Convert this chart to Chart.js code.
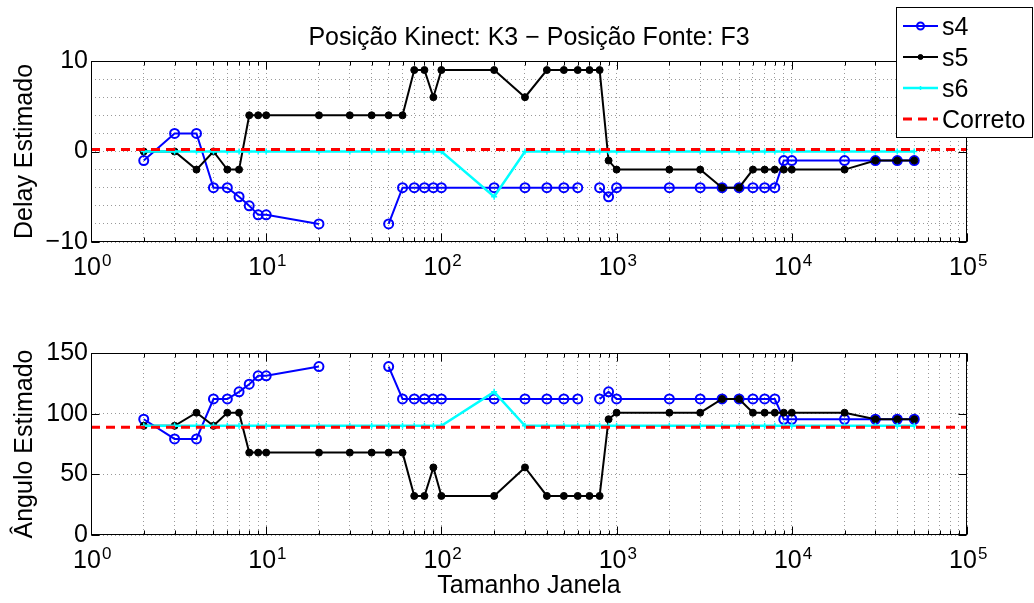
<!DOCTYPE html>
<html>
<head>
<meta charset="utf-8">
<title>Posição Kinect: K3 − Posição Fonte: F3</title>
<script src="https://cdn.jsdelivr.net/npm/chart.js@4.4.0/dist/chart.umd.min.js"></script>
<style>
  html, body { margin: 0; padding: 0; background: #fff; }
  #wrap { position: relative; width: 1034px; height: 603px; overflow: hidden; }
  canvas { position: absolute; left: 0; }
</style>
</head>
<body>
<div id="wrap">
  <canvas id="delayChart" width="1034" height="300" style="top:0"></canvas>
  <canvas id="angleChart" width="1034" height="303" style="top:300px"></canvas>
</div>
<script>
const FONT = "'Liberation Sans', Arial, Helvetica, sans-serif";

// window sizes (x axis, log)
const windowSizes = [2, 3, 4, 5, 6, 7, 8, 9, 10, 20, 30, 40, 50, 60, 70, 80, 90, 100,
  200, 300, 400, 500, 600, 700, 800, 900, 1000, 2000, 3000, 4000, 5000, 6000, 7000,
  8000, 9000, 10000, 20000, 30000, 40000, 50000];

// top: estimated delay
const delayS4 = [-1, 2, 2, -4, -4, -5, -6, -7, -7, -8, null, null, -8, -4, -4, -4, -4, -4,
  -4, -4, -4, -4, -4, null, -4, -5, -4, -4, -4, -4, -4, -4, -4,
  -4, -1, -1, -1, -1, -1, -1];
const delayS5 = [0, 0, -2, 0, -2, -2, 4, 4, 4, 4, 4, 4, 4, 4, 9, 9, 6, 9,
  9, 6, 9, 9, 9, 9, 9, -1, -2, -2, -2, -4, -4, -2, -2,
  -2, -2, -2, -2, -1, -1, -1];
const delayS6 = [0, 0, 0, 0, 0, 0, 0, 0, 0, 0, 0, 0, 0, 0, 0, 0, 0, 0,
  -5, 0, 0, 0, 0, 0, 0, 0, 0, 0, 0, 0, 0, 0, 0,
  0, 0, 0, 0, 0, 0, 0];

// bottom: estimated angle
const angleS4 = [95.4, 79.2, 79.2, 112.1, 112.1, 118.0, 124.3, 131.2, 131.2, 138.8, null, null, 138.8, 112.1, 112.1, 112.1, 112.1, 112.1,
  112.1, 112.1, 112.1, 112.1, 112.1, null, 112.1, 118.0, 112.1, 112.1, 112.1, 112.1, 112.1, 112.1, 112.1,
  112.1, 95.4, 95.4, 95.4, 95.4, 95.4, 95.4];
const angleS5 = [90, 90, 100.8, 90, 100.8, 100.8, 67.9, 67.9, 67.9, 67.9, 67.9, 67.9, 67.9, 67.9, 32.2, 32.2, 55.7, 32.2,
  32.2, 55.7, 32.2, 32.2, 32.2, 32.2, 32.2, 95.4, 100.8, 100.8, 100.8, 112.1, 112.1, 100.8, 100.8,
  100.8, 100.8, 100.8, 100.8, 95.4, 95.4, 95.4];
const angleS6 = [90, 90, 90, 90, 90, 90, 90, 90, 90, 90, 90, 90, 90, 90, 90, 90, 90, 90,
  118.0, 90, 90, 90, 90, 90, 90, 90, 90, 90, 90, 90, 90, 90, 90,
  90, 90, 90, 90, 90, 90, 90];

// reference ("Correto") lines
const correctRange = [1, 100000];
const correctDelay = [0.22, 0.22];
const correctAngle = [88.8, 88.8];

const seriesNames = ['s4', 's5', 's6', 'Correto'];
// x tick labels: base + exponent (drawn as superscript)
const xTickBase = { 1: '10', 10: '10', 100: '10', 1000: '10', 10000: '10', 100000: '10' };
const xTickExp = { 1: '0', 10: '1', 100: '2', 1000: '3', 10000: '4', 100000: '5' };
const delayTickLabels = { '-10': '−10', '0': '0', '10': '10' };
const angleTickLabels = { '0': '0', '50': '50', '100': '100', '150': '150' };

// minor + major positions of the log axis
const logTicks = [];
[1, 10, 100, 1000, 10000].forEach((d) => {
  for (let m = 1; m < 10; m++) logTicks.push(m * d);
});
logTicks.push(100000);

const toPoints = (xs, ys) => xs.map((x, i) => ({ x: x, y: ys[i] }));

const makeDatasets = (s4, s5, s6, corr) => [
  {
    label: seriesNames[0], data: toPoints(windowSizes, s4),
    borderColor: '#0000ff', backgroundColor: 'rgba(0,0,0,0)', borderWidth: 2,
    pointStyle: 'circle', pointRadius: 4.5, pointBorderWidth: 2, order: 4,
  },
  {
    label: seriesNames[1], data: toPoints(windowSizes, s5),
    borderColor: '#000000', backgroundColor: '#000000', borderWidth: 2,
    pointStyle: 'circle', pointRadius: 3.5, pointBorderWidth: 1, order: 3,
  },
  {
    label: seriesNames[2], data: toPoints(windowSizes, s6),
    borderColor: '#00ffff', backgroundColor: '#00ffff', borderWidth: 2.5,
    pointStyle: 'cross', pointRadius: 3, pointBorderWidth: 1.5, order: 2,
  },
  {
    label: seriesNames[3], data: toPoints(correctRange, corr),
    borderColor: '#ff0000', backgroundColor: '#ff0000', borderWidth: 3,
    borderDash: [9, 6], pointRadius: 0, order: 1,
  },
];

const tickFont = { family: FONT, size: 25 };
const gridOpts = { color: 'rgba(0,0,0,0.4)', lineWidth: 1, drawTicks: false };
const X_LABEL_SHIFT = -4;

//box around the axes with inward ticks
const axesBox = {
  id: 'axesBox',
  afterDatasetsDraw(chart) {
    const { ctx, chartArea: a, scales } = chart;
    const L = Math.round(a.left) + 0.5, R = Math.round(a.right) - 0.5;
    const T = Math.round(a.top) + 0.5, B = Math.round(a.bottom) - 0.5;
    ctx.save();
    ctx.strokeStyle = '#000';
    ctx.lineWidth = 1;
    ctx.setLineDash([]);
    ctx.beginPath();
    scales.x.ticks.forEach((t) => {
      const px = Math.round(scales.x.getPixelForValue(t.value)) + 0.5;
      const len = xTickBase[t.value] ? 8 : 4;
      ctx.moveTo(px, B); ctx.lineTo(px, B - len);
      ctx.moveTo(px, T); ctx.lineTo(px, T + len);
    });
    const yLabels = scales.y.options.ticks.callback;
    scales.y.ticks.forEach((t) => {
      if (!yLabels(t.value)) return;
      const py = Math.round(scales.y.getPixelForValue(t.value)) + 0.5;
      ctx.moveTo(L, py); ctx.lineTo(L + 8, py);
      ctx.moveTo(R, py); ctx.lineTo(R - 8, py);
    });
    ctx.stroke();
    ctx.strokeRect(L, T, R - L, B - T);
    ctx.restore();
  },
  //exponents of the x tick labels
  afterDraw(chart) {
    const { ctx, scales } = chart;
    const xs = scales.x;
    const pad = xs.options.ticks.padding;
    const mid = xs.top + pad + 15;
    ctx.save();
    ctx.fillStyle = '#000';
    ctx.textBaseline = 'middle';
    ctx.textAlign = 'left';
    xs.ticks.forEach((t) => {
      const e = xTickExp[t.value];
      if (e === undefined) return;
      ctx.font = '25px ' + FONT;
      const half = ctx.measureText(xTickBase[t.value]).width / 2;
      const px = xs.getPixelForValue(t.value) + X_LABEL_SHIFT + half + 1;
      ctx.font = '17px ' + FONT;
      ctx.fillText(e, px, mid - 7);
    });
    ctx.restore();
  },
};

const legendBox = {
  id: 'legendBox',
  afterDraw(chart) {
    const ctx = chart.ctx;
    const x0 = 896, y0 = 7, w = 137, h = 131;
    ctx.save();
    ctx.fillStyle = '#fff';
    ctx.fillRect(x0, y0, w, h);
    ctx.strokeStyle = '#000';
    ctx.lineWidth = 1;
    ctx.strokeRect(x0 + 0.5, y0 + 0.5, w - 1, h - 1);
    chart.data.datasets.forEach((ds, i) => {
      const y = 26 + i * 31;
      ctx.strokeStyle = ds.borderColor;
      ctx.lineWidth = ds.borderWidth;
      ctx.setLineDash(ds.borderDash || []);
      ctx.beginPath();
      ctx.moveTo(903, y);
      ctx.lineTo(938, y);
      ctx.stroke();
      ctx.setLineDash([]);
      if (ds.pointRadius > 0) {
        ctx.fillStyle = ds.backgroundColor;
        ctx.lineWidth = ds.pointBorderWidth;
        Chart.helpers.drawPoint(ctx, {
          pointStyle: ds.pointStyle, radius: ds.pointRadius - 1,
          borderWidth: ds.pointBorderWidth, rotation: 0,
        }, 920.5, y);
      }
      ctx.fillStyle = '#000';
      ctx.font = '25px ' + FONT;
      ctx.textBaseline = 'middle';
      ctx.textAlign = 'left';
      ctx.fillText(ds.label, 942, y + 2);
    });
    ctx.restore();
  },
};

const xScale = (height, title) => ({
  type: 'logarithmic',
  min: 1,
  max: 100000,
  afterBuildTicks: (scale) => {
    scale.ticks = logTicks.map((v) => ({ value: v }));
  },
  ticks: {
    autoSkip: false, maxRotation: 0, minRotation: 0, padding: 11,
    labelOffset: X_LABEL_SHIFT,
    font: tickFont, color: '#000',
    callback: (v) => xTickBase[v] || '',
  },
  grid: gridOpts,
  border: { display: false, dash: [1, 3] },
  title: title
    ? { display: true, text: title, font: tickFont, color: '#000', padding: { top: 0, bottom: 2 } }
    : { display: false },
  afterFit: (scale) => { scale.height = height; },
});

const yScale = (min, max, step, labels, title) => ({
  min: min,
  max: max,
  ticks: {
    stepSize: step, autoSkip: false, padding: 3,
    font: tickFont, color: '#000',
    callback: (v) => labels[v] || '',
  },
  grid: gridOpts,
  border: { display: false, dash: [1, 3] },
  title: { display: true, text: title, font: tickFont, color: '#000', padding: { top: 10, bottom: 0 } },
  afterFit: (scale) => { scale.width = 91; },
});

const common = {
  responsive: false,
  animation: false,
  devicePixelRatio: 1,
  spanGaps: false,
  elements: { line: { tension: 0 } },
};

new Chart(document.getElementById('delayChart'), {
  type: 'line',
  data: { datasets: makeDatasets(delayS4, delayS5, delayS6, correctDelay) },
  options: {
    ...common,
    layout: { padding: { left: 0, right: 67, top: 0, bottom: 0 } },
    scales: {
      x: xScale(58, null),
      y: yScale(-10, 10, 2, delayTickLabels, 'Delay Estimado'),
    },
    plugins: {
      legend: { display: false },
      tooltip: { enabled: false },
      title: {
        display: true,
        fullSize: false,
        text: 'Posição Kinect: K3 − Posição Fonte: F3',
        font: { family: FONT, size: 25, weight: 'normal' },
        color: '#000',
        padding: { top: 23, bottom: 8 },
      },
    },
  },
  plugins: [axesBox, legendBox],
});

new Chart(document.getElementById('angleChart'), {
  type: 'line',
  data: { datasets: makeDatasets(angleS4, angleS5, angleS6, correctAngle) },
  options: {
    ...common,
    layout: { padding: { left: 0, right: 67, top: 53, bottom: 0 } },
    scales: {
      x: xScale(68, 'Tamanho Janela'),
      y: yScale(0, 150, 50, angleTickLabels, 'Ângulo Estimado'),
    },
    plugins: {
      legend: { display: false },
      tooltip: { enabled: false },
    },
  },
  plugins: [axesBox],
});
</script>
</body>
</html>
